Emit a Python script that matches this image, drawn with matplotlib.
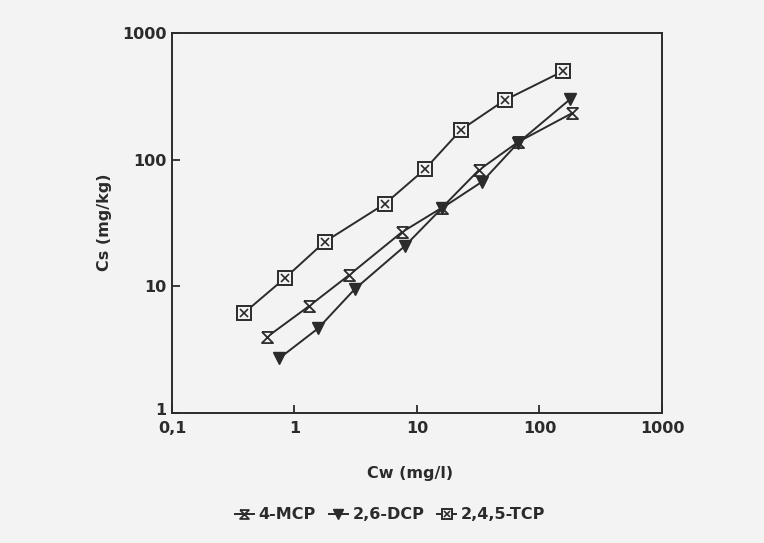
import matplotlib
matplotlib.use("Agg")
import matplotlib.pyplot as plt
import matplotlib.transforms as mtransforms
from matplotlib.ticker import FixedLocator, NullLocator

# === DATA ===
cw_mcp = [0.6, 1.32, 2.8, 7.5, 16, 32, 67, 183]
cs_mcp = [4.0, 7.0, 12.3, 26.7, 41.8, 82.8, 138, 232]

cw_dcp = [0.75, 1.56, 3.1, 8.0, 16, 34, 67, 177]
cs_dcp = [2.7, 4.66, 9.5, 20.9, 41.5, 67, 136, 299]

cw_tcp = [0.39, 0.835, 1.77, 5.5, 11.6, 23, 52, 156]
cs_tcp = [6.2, 11.6, 22.5, 45, 84, 173, 295, 500]

x_ticks = [0.1, 1, 10, 100, 1000]
x_ticklabels = ["0,1", "1", "10", "100", "1000"]
y_ticks = [1, 10, 100, 1000]
y_ticklabels = ["1", "10", "100", "1000"]

# === STYLE ===
bg = "#f3f3f3"
ink = "#2b2b2b"
plt.rcParams["font.family"] = ["DejaVu Sans"]
plt.rcParams["font.weight"] = "bold"

fig = plt.figure(figsize=(7.64, 5.43), dpi=100, facecolor=bg)
ax = fig.add_axes([0.2251, 0.2394, 0.6414, 0.6998], facecolor=bg)

hourglass = [(-1, 1), (1, 1), (-1, -1), (1, -1), (-1, 1)]

mcp, = ax.plot(cw_mcp, cs_mcp, color=ink, lw=1.4, marker=hourglass, ms=8,
               mfc=bg, mec=ink, mew=1.3)
dcp, = ax.plot(cw_dcp, cs_dcp, color=ink, lw=1.4, marker="v", ms=8.5,
               mfc=ink, mec=ink)
tcp, = ax.plot(cw_tcp, cs_tcp, color=ink, lw=1.4, marker="s", ms=9.5,
               mfc=bg, mec=ink, mew=1.4)
tcp_x, = ax.plot(cw_tcp, cs_tcp, ls="none", marker="x", ms=5.5,
                 mec=ink, mew=1.2)

ax.set_xscale("log")
ax.set_yscale("log")
ax.set_xlim(0.1, 1000)
ax.set_ylim(1, 1000)

ax.xaxis.set_major_locator(FixedLocator(x_ticks))
ax.xaxis.set_minor_locator(NullLocator())
ax.set_xticklabels(x_ticklabels)
ax.yaxis.set_major_locator(FixedLocator(y_ticks))
ax.yaxis.set_minor_locator(NullLocator())
ax.set_yticklabels(y_ticklabels)

ax.tick_params(axis="both", direction="in", length=6, width=1.3, color=ink,
               labelsize=11.5, labelcolor=ink)
ax.tick_params(axis="x", pad=6)
ax.tick_params(axis="y", pad=4)
for s in ax.spines.values():
    s.set_color(ink)
    s.set_linewidth(1.4)

# lift the bottom "1" a little so it does not sit on "0,1"
lbl = ax.get_yticklabels()[0]
lbl.set_transform(lbl.get_transform() + mtransforms.ScaledTranslation(0, 3 / 72, fig.dpi_scale_trans))

ax.set_xlabel("Cw (mg/l)", fontsize=11.5, fontweight="bold", color=ink)
ax.xaxis.label.set_va("center")
ax.xaxis.set_label_coords(0.486, -0.158)
ax.set_ylabel("Cs (mg/kg)", fontsize=11.5, fontweight="bold", color=ink)
ax.yaxis.label.set_va("center")
ax.yaxis.set_label_coords(-0.137, 0.503)

fig.legend([mcp, dcp, (tcp, tcp_x)], ["4-MCP", "2,6-DCP", "2,4,5-TCP"],
           loc="center", bbox_to_anchor=(0.5105, 0.0516), ncol=3,
           frameon=False, handlelength=1.2, handletextpad=0.3,
           columnspacing=0.8, fontsize=11.5, labelcolor=ink,
           markerscale=0.8)

fig.savefig("out.png", dpi=100, facecolor=bg)
